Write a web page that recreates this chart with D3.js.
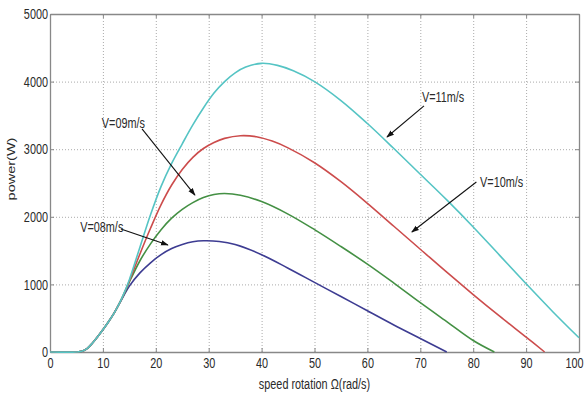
<!DOCTYPE html>
<html>
<head>
<meta charset="utf-8">
<script src="https://cdn.jsdelivr.net/npm/d3@7"></script>
<style>
  body { margin: 0; background: #fff; }
  text { font-family: "Liberation Sans", Arial, sans-serif; fill: #2a2a2a; }
</style>
</head>
<body>
<div id="chart-area"></div>
<script>
// speed rotation (rad/s) vs power (W), one array per wind speed
const v08 = [[0,0],[5,0],[6,10],[7,50],[8,130],[9,225],[10,330],[11,440],[12,560],[13,700],[14,840],[15,975],[17,1170],[19,1320],[21,1440],[23,1530],[25,1590],[27,1630],[29,1645],[32,1635],[35,1590],[40,1440],[45,1240],[50,1030],[55,820],[60,610],[65,400],[70,200],[75,0]]
const v09 = [[0,0],[5,0],[6,10],[7,50],[8,130],[9,225],[10,330],[11,440],[12,560],[13,700],[14,860],[15,1035],[17,1350],[19,1600],[21,1810],[23,1980],[25,2110],[27,2210],[29,2285],[31,2330],[33,2345],[36,2320],[40,2225],[45,2040],[50,1810],[55,1560],[60,1300],[65,1020],[70,730],[75,450],[80,170],[84,0]]
const v10 = [[0,0],[5,0],[6,10],[7,50],[8,130],[9,225],[10,330],[11,440],[12,560],[13,700],[14,865],[15,1050],[17,1450],[19,1830],[21,2180],[23,2470],[25,2700],[27,2880],[29,3010],[31,3100],[33,3160],[36,3200],[39,3185],[42,3120],[45,3020],[50,2800],[55,2520],[60,2200],[65,1860],[70,1520],[75,1180],[80,850],[85,530],[90,220],[93.5,0]]
const v11 = [[0,0],[5,0],[6,10],[7,50],[8,130],[9,225],[10,330],[11,440],[12,560],[13,700],[14,870],[15,1070],[17,1550],[19,2030],[21,2450],[23,2790],[25,3080],[27,3360],[29,3610],[31,3830],[33,4000],[35,4130],[37,4215],[40,4270],[43,4240],[46,4160],[50,4000],[55,3720],[60,3380],[65,3010],[70,2630],[75,2250],[80,1850],[85,1430],[90,1010],[95,600],[100,210]]

const seriesNames = ["V=08m/s", "V=09m/s", "V=10m/s", "V=11m/s"]
const seriesData = [v08, v09, v10, v11]
const seriesColors = ["#3d3c92", "#449044", "#cc4c4c", "#55c4c4"]

const xTicks = [0, 10, 20, 30, 40, 50, 60, 70, 80, 90, 100]
const yTicks = [0, 1000, 2000, 3000, 4000, 5000]

// annotation text anchor and arrow (from -> to), in data units
const labels = [
  { name: "V=08m/s", at: [5.7, 1849], from: [13.4, 1820], to: [22.3, 1583] },
  { name: "V=09m/s", at: [9.8, 3388], from: [17.4, 3300], to: [27.4, 2322] },
  { name: "V=10m/s", at: [81.3, 2515], from: [80.6, 2515], to: [68.4, 1775] },
  { name: "V=11m/s", at: [70.3, 3772], from: [70.7, 3640], to: [63.7, 3180] }
]

const MARGIN = { LEFT: 50, RIGHT: 8, TOP: 14, BOTTOM: 44 }
const WIDTH = 587 - MARGIN.LEFT - MARGIN.RIGHT
const HEIGHT = 396 - MARGIN.TOP - MARGIN.BOTTOM
const SX = 0.75 // the source text is squeezed horizontally
const FONT = "14.5px"

const svg = d3.select("#chart-area").append("svg")
  .attr("width", 587)
  .attr("height", 396)

svg.append("defs").append("marker")
  .attr("id", "head")
  .attr("viewBox", "0 0 10 10")
  .attr("refX", 9).attr("refY", 5)
  .attr("markerWidth", 7).attr("markerHeight", 7)
  .attr("orient", "auto")
  .append("path").attr("d", "M0,1.5L10,5L0,8.5Z").attr("fill", "#111")

const g = svg.append("g")
  .attr("transform", `translate(${MARGIN.LEFT}, ${MARGIN.TOP})`)

const x = d3.scaleLinear().domain([0, 100]).range([0, WIDTH])
const y = d3.scaleLinear().domain([0, 5000]).range([HEIGHT, 0])

// grid
g.append("g")
  .attr("transform", `translate(0,${HEIGHT})`)
  .call(d3.axisBottom(x).tickValues(xTicks.slice(1, -1)).tickSize(-HEIGHT).tickFormat(""))
  .call(a => a.select(".domain").remove())
  .selectAll("line").attr("stroke", "#aaa").attr("stroke-dasharray", "1,2")
g.append("g")
  .call(d3.axisLeft(y).tickValues(yTicks.slice(1, -1)).tickSize(-WIDTH).tickFormat(""))
  .call(a => a.select(".domain").remove())
  .selectAll("line").attr("stroke", "#aaa").attr("stroke-dasharray", "1,2")

// frame with inward ticks
const frame = [
  [d3.axisBottom(x).tickValues(xTicks), `translate(0,${HEIGHT})`, "bottom"],
  [d3.axisTop(x).tickValues(xTicks).tickFormat(""), "translate(0,0)", "top"],
  [d3.axisLeft(y).tickValues(yTicks).tickFormat(d3.format("d")), "translate(0,0)", "left"],
  [d3.axisRight(y).tickValues(yTicks).tickFormat(""), `translate(${WIDTH},0)`, "right"]
]
frame.forEach(([ax, tr, side]) => {
  const a = g.append("g").attr("transform", tr)
    .call(ax.tickSizeInner(-4).tickSizeOuter(0).tickPadding(6))
  a.select(".domain").attr("stroke", "#888").attr("stroke-width", 1.3)
  a.selectAll("line").attr("stroke", "#888")
  const t = a.selectAll("text")
    .style("font-family", "'Liberation Sans', Arial, sans-serif")
    .style("font-size", FONT)
    .attr("fill", "#2a2a2a")
    .attr("transform", `scale(${SX},1)`)
  if (side === "bottom") t.attr("y", 5.5).attr("x", d => d === 100 ? -5 / SX : 0)
  if (side === "left") t.attr("x", -2 / SX)
})

// curves
const line = d3.line()
  .x(d => x(d[0]))
  .y(d => y(d[1]))
  .curve(d3.curveCatmullRom.alpha(0.5))

seriesData.forEach((data, i) => {
  g.append("path")
    .datum(data)
    .attr("fill", "none")
    .attr("stroke", seriesColors[i])
    .attr("stroke-width", 1.6)
    .attr("d", line)
})

// annotations
labels.forEach(l => {
  g.append("line")
    .attr("x1", x(l.from[0])).attr("y1", y(l.from[1]))
    .attr("x2", x(l.to[0])).attr("y2", y(l.to[1]))
    .attr("stroke", "#111").attr("stroke-width", 1.1)
    .attr("marker-end", "url(#head)")
  g.append("text")
    .attr("transform", `translate(${x(l.at[0])},${y(l.at[1])}) scale(${SX},1)`)
    .attr("dy", "0.35em")
    .style("font-size", FONT)
    .attr("fill", "#222")
    .text(l.name)
})

// axis titles
g.append("text")
  .attr("transform", `translate(${WIDTH / 2},${HEIGHT + 37}) scale(${SX},1)`)
  .attr("text-anchor", "middle")
  .style("font-size", FONT)
  .text("speed rotation Ω(rad/s)")

g.append("text")
  .attr("transform", `translate(${-35},${HEIGHT / 2 - 14}) rotate(-90) scale(1,${SX})`)
  .attr("text-anchor", "middle")
  .style("font-size", FONT)
  .text("power(W)")
</script>
</body>
</html>
